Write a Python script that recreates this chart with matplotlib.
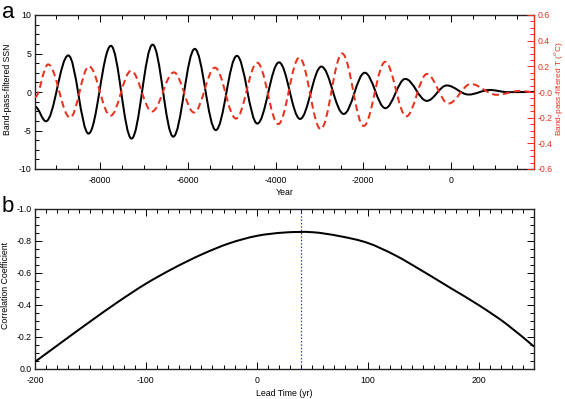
import matplotlib
matplotlib.use('Agg')
import matplotlib.pyplot as plt
from matplotlib.path import Path
from matplotlib.patches import PathPatch
from matplotlib.ticker import MultipleLocator, FixedLocator, FixedFormatter, FormatStrFormatter

plt.rcParams['font.family'] = ['Liberation Sans', 'DejaVu Sans']
plt.rcParams['axes.unicode_minus'] = False

# ---------------- data: panel a (turning points) ----------------
ssn_years = [-9480, -9230, -8720, -8260, -7750, -7280, -6800, -6330, -5840, -5360,
             -4880, -4415, -3920, -3440, -2955, -2445, -1966, -1497, -1043, -551,
             -98, 400, 880, 1300, 1890]
ssn_values = [-1.9, -3.8, 4.75, -5.4, 6.0, -6.05, 6.15, -5.8, 5.6, -4.95,
              4.7, -4.1, 3.85, -3.5, 3.3, -2.85, 2.5, -2.1, 1.7, -1.15,
              0.85, -0.33, 0.26, -0.02, 0.0]

t_years = [-9480, -9180, -8680, -8250, -7760, -7290, -6815, -6315, -5855, -5380,
           -4900, -4415, -3936, -3457, -2970, -2480, -1990, -1500, -1020, -550,
           -60, 450, 1040, 1550, 1890]
t_values = [-0.04, 0.215, -0.20, 0.20, -0.185, 0.165, -0.152, 0.153, -0.16, 0.19,
            -0.207, 0.228, -0.25, 0.268, -0.29, 0.30, -0.265, 0.235, -0.19, 0.14,
            -0.09, 0.062, -0.022, 0.008, 0.0]

year_ticks = [-8000, -6000, -4000, -2000, 0]
ssn_ticks = [-10, -5, 0, 5, 10]
t_ticks = [-0.6, -0.4, -0.2, 0.0, 0.2, 0.4, 0.6]
t_ticklabels = ['-0.6', '-0.4', '-0.2', '-0.0', '0.2', '0.4', '0.6']

# ---------------- data: panel b ----------------
lag_years = [-200, -175, -150, -125, -100, -75, -50, -25, 0, 25, 50, 75, 100,
             125, 150, 175, 200, 225, 250]
corr_values = [-0.045, -0.172, -0.298, -0.42, -0.533, -0.63, -0.715, -0.785, -0.832,
               -0.853, -0.855, -0.830, -0.788, -0.71, -0.61, -0.505,
               -0.40, -0.282, -0.14]
best_lead = 40
lag_ticks = [-200, -100, 0, 100, 200]
corr_ticks = [0.0, -0.2, -0.4, -0.6, -0.8, -1.0]

RED = '#e8321f'
BLUE = '#3535d0'
FS = 6.3


def extrema_path(xs, ys, k=0.3634):
    """Smooth path through turning points (flat tangents at each point)."""
    verts = [(xs[0], ys[0])]
    codes = [Path.MOVETO]
    for i in range(len(xs) - 1):
        dx = xs[i + 1] - xs[i]
        verts += [(xs[i] + k * dx, ys[i]), (xs[i + 1] - k * dx, ys[i + 1]), (xs[i + 1], ys[i + 1])]
        codes += [Path.CURVE4] * 3
    return Path(verts, codes)


def through_path(xs, ys):
    """Smooth (Catmull-Rom) path through the given samples."""
    n = len(xs)
    P = list(zip(xs, ys))
    verts = [P[0]]
    codes = [Path.MOVETO]
    for i in range(n - 1):
        p0 = P[i - 1] if i > 0 else P[i]
        p1, p2 = P[i], P[i + 1]
        p3 = P[i + 2] if i + 2 < n else P[i + 1]
        c1 = (p1[0] + (p2[0] - p0[0]) / 6, p1[1] + (p2[1] - p0[1]) / 6)
        c2 = (p2[0] - (p3[0] - p1[0]) / 6, p2[1] - (p3[1] - p1[1]) / 6)
        verts += [c1, c2, p2]
        codes += [Path.CURVE4] * 3
    return Path(verts, codes)


W, H = 565, 399
fig = plt.figure(figsize=(W / 100, H / 100), dpi=100)

# ---------------- panel a ----------------
ax1 = fig.add_axes([35 / W, 1 - 169 / H, 499 / W, 154 / H])
ax1.set_xlim(-9480, 1890)
ax1.set_ylim(-10, 10)
ax1.add_patch(PathPatch(extrema_path(ssn_years, ssn_values), fill=False,
                        ec='black', lw=1.45, zorder=2))
ax1.xaxis.set_major_locator(FixedLocator(year_ticks))
ax1.xaxis.set_minor_locator(MultipleLocator(500))
ax1.yaxis.set_major_locator(FixedLocator(ssn_ticks))
ax1.yaxis.set_minor_locator(MultipleLocator(1.25))
ax1.tick_params(which='both', direction='in', top=True, right=False, width=0.7,
                labelsize=FS, colors='black')
ax1.tick_params(axis='x', which='both', pad=5.2)
ax1.tick_params(axis='y', which='both', pad=2.5)
ax1.tick_params(which='major', length=5)
ax1.tick_params(which='minor', length=2.6)
ax1.spines['right'].set_visible(False)
for s in ['left', 'top', 'bottom']:
    ax1.spines[s].set_linewidth(1.0)
    ax1.spines[s].set_color('#222222')
ax1.set_xlabel('Year', fontsize=FS)
ax1.xaxis.set_label_coords(0.5, -0.125)
ax1.set_ylabel('Band-pass-filtered SSN', fontsize=FS)
ax1.yaxis.set_label_coords(-0.047, 0.52)

ax2 = ax1.twinx()
ax2.set_ylim(-0.6, 0.6)
ax2.add_patch(PathPatch(extrema_path(t_years, t_values), fill=False,
                        ec=RED, lw=1.45, ls=(0, (3.4, 2.0)), zorder=3))
ax2.yaxis.set_major_locator(FixedLocator(t_ticks))
ax2.yaxis.set_major_formatter(FixedFormatter(t_ticklabels))
ax2.yaxis.set_minor_locator(MultipleLocator(0.05))
ax2.tick_params(axis='y', which='both', direction='in', colors=RED, width=0.7,
                labelsize=FS, pad=2.5)
ax2.tick_params(axis='y', which='major', length=5)
ax2.tick_params(axis='y', which='minor', length=2.6)
for s in ['left', 'top', 'bottom']:
    ax2.spines[s].set_visible(False)
ax2.spines['right'].set_color(RED)
ax2.spines['right'].set_linewidth(1.0)
ax2.set_ylabel('Band-pass-filtered T ($^o$C)', fontsize=6.0, color=RED)
ax2.yaxis.set_label_coords(1.037, 0.52)

# ---------------- panel b ----------------
ax3 = fig.add_axes([35 / W, 1 - 369 / H, 499 / W, 160 / H])
ax3.set_xlim(-200, 250)
ax3.set_ylim(0.0, -1.0)
ax3.add_patch(PathPatch(through_path(lag_years, corr_values), fill=False,
                        ec='black', lw=1.45, zorder=3))
ax3.axvline(best_lead, color=BLUE, ls=(0, (1.2, 1.5)), lw=0.9, zorder=2)
ax3.xaxis.set_major_locator(FixedLocator(lag_ticks))
ax3.xaxis.set_minor_locator(MultipleLocator(10))
ax3.yaxis.set_major_locator(FixedLocator(corr_ticks))
ax3.yaxis.set_major_formatter(FormatStrFormatter('%.1f'))
ax3.yaxis.set_minor_locator(MultipleLocator(0.05))
ax3.tick_params(which='both', direction='in', top=True, right=True, width=0.7,
                labelsize=FS)
ax3.tick_params(axis='x', which='both', pad=5.2)
ax3.tick_params(axis='y', which='both', pad=2.5)
ax3.tick_params(which='major', length=5)
ax3.tick_params(which='minor', length=2.6)
for s in ax3.spines.values():
    s.set_linewidth(1.0)
    s.set_color('#222222')
ax3.set_xlabel('Lead Time (yr)', fontsize=FS)
ax3.xaxis.set_label_coords(0.5, -0.128)
ax3.set_ylabel('Correlation Coefficient', fontsize=FS)
ax3.yaxis.set_label_coords(-0.05, 0.52)

# panel letters
fig.text(2 / W, 1 - 18.5 / H, 'a', fontsize=16, va='baseline', ha='left')
fig.text(2 / W, 1 - 211.5 / H, 'b', fontsize=16, va='baseline', ha='left')

fig.savefig('out.png', dpi=100, facecolor='white')
